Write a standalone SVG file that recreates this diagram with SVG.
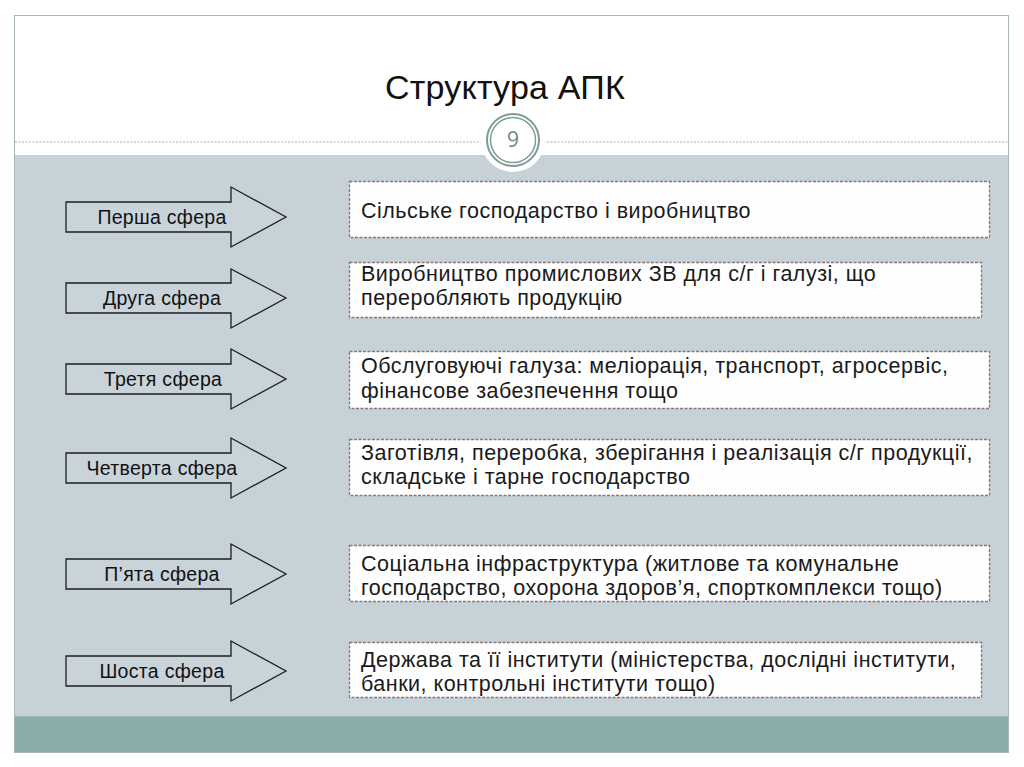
<svg xmlns="http://www.w3.org/2000/svg" width="1024" height="767" viewBox="0 0 1024 767">
<style>
.arrow{fill:#c9d4da;stroke:#1e1e1e;stroke-width:1.3;stroke-linejoin:miter}
.alabel{font-family:"Liberation Sans",Arial,sans-serif;font-size:19.5px;letter-spacing:0.3px;fill:#111;text-anchor:middle}
.box{fill:#fefefe;stroke:#8a7676;stroke-width:1.3;stroke-dasharray:3 1.5}
.btext{font-family:"Liberation Sans",Arial,sans-serif;font-size:21.5px;letter-spacing:0.5px;fill:#1a1a1a}
</style>
<rect x="0" y="0" width="1024" height="767" fill="#ffffff"/>
<g id="slide">
<rect x="14.5" y="15.5" width="994" height="737" fill="#ffffff" stroke="#a7b6b6" stroke-width="1"/>
<rect x="15" y="155" width="993" height="561" fill="#c6d2d8"/>
<rect x="15" y="716" width="993" height="36" fill="#8aacab"/>
<line x1="15" y1="716.5" x2="1008" y2="716.5" stroke="#a3b7b8" stroke-width="1"/>
<line x1="15" y1="142" x2="1008" y2="142" stroke="#9fb0b0" stroke-width="1" stroke-dasharray="2 1.5"/>
</g>
<g id="title">
<text x="505" y="99" font-family="'Liberation Sans',Arial,sans-serif" font-size="34" letter-spacing="0.2" fill="#111" text-anchor="middle">Структура АПК</text>
</g>
<g id="page-number">
<circle cx="513" cy="140" r="32" fill="#ffffff"/>
<circle cx="513" cy="140" r="26" fill="none" stroke="#7d9a98" stroke-width="2"/>
<circle cx="513" cy="140" r="22.5" fill="none" stroke="#7d9a98" stroke-width="1.5"/>
<text x="513" y="147" font-family="'Open Sans','Liberation Sans',sans-serif" font-size="21" fill="#6e8584" text-anchor="middle">9</text>
</g>
<g id="connectors"></g>
<g id="sphere1">
<polygon class="arrow" points="66,202 231,202 231,187 286,217 231,247 231,232 66,232"/>
<text class="alabel" x="162" y="224">Перша сфера</text>
</g>
<g id="sphere2">
<polygon class="arrow" points="66,283 231,283 231,269 286,298 231,328 231,313 66,313"/>
<text class="alabel" x="162" y="305">Друга сфера</text>
</g>
<g id="sphere3">
<polygon class="arrow" points="66,364 231,364 231,349 286,379 231,409 231,394 66,394"/>
<text class="alabel" x="163" y="386">Третя сфера</text>
</g>
<g id="sphere4">
<polygon class="arrow" points="66,453 231,453 231,438 286,468 231,498 231,483 66,483"/>
<text class="alabel" x="162" y="475">Четверта сфера</text>
</g>
<g id="sphere5">
<polygon class="arrow" points="66,559 231,559 231,544 286,574 231,604 231,589 66,589"/>
<text class="alabel" x="162" y="581">П’ята сфера</text>
</g>
<g id="sphere6">
<polygon class="arrow" points="66,656 231,656 231,641 286,671 231,701 231,686 66,686"/>
<text class="alabel" x="162" y="678">Шоста сфера</text>
</g>
<g id="box1">
<rect class="box" x="349.5" y="181.5" width="640" height="56"/>
<text class="btext" x="361" y="218">Сільське господарство і виробництво</text>
</g>
<g id="box2">
<rect class="box" x="349.5" y="262.5" width="632" height="55"/>
<text class="btext" x="361" y="281">Виробництво промислових ЗВ для с/г і галузі, що</text>
<text class="btext" x="361" y="305">переробляють продукцію</text>
</g>
<g id="box3">
<rect class="box" x="349.5" y="351.5" width="640" height="57"/>
<text class="btext" x="361" y="373">Обслуговуючі галуза: меліорація, транспорт, агросервіс,</text>
<text class="btext" x="361" y="398">фінансове забезпечення тощо</text>
</g>
<g id="box4">
<rect class="box" x="349.5" y="439.5" width="640" height="56"/>
<text class="btext" x="361" y="460">Заготівля, переробка, зберігання і реалізація с/г продукції,</text>
<text class="btext" x="361" y="484">складське і тарне господарство</text>
</g>
<g id="box5">
<rect class="box" x="349.5" y="545.5" width="640" height="56"/>
<text class="btext" x="361" y="571">Соціальна інфраструктура (житлове та комунальне</text>
<text class="btext" x="361" y="595">господарство, охорона здоров’я, спорткомплекси тощо)</text>
</g>
<g id="box6">
<rect class="box" x="349.5" y="642.5" width="632" height="55"/>
<text class="btext" x="361" y="667">Держава та її інститути (міністерства, дослідні інститути,</text>
<text class="btext" x="361" y="691">банки, контрольні інститути тощо)</text>
</g>
</svg>
